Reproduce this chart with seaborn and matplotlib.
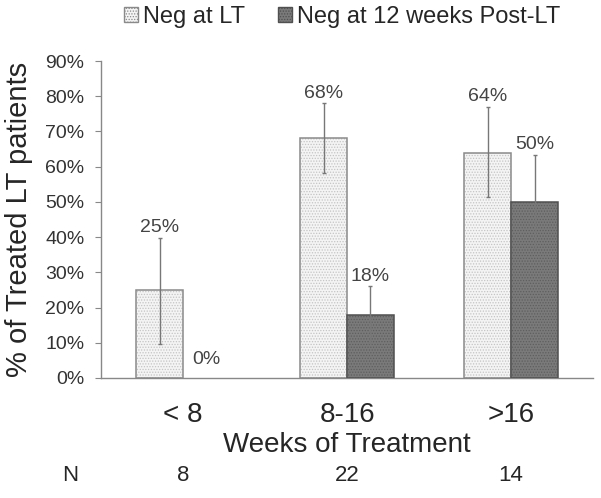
import numpy as np
import pandas as pd
import seaborn as sns
import matplotlib.pyplot as plt
from matplotlib.patches import Patch

# valeurs
weeks = ["< 8", "8-16", ">16"]
n_patients = [8, 22, 14]
series = ["Neg at LT", "Neg at 12 weeks Post-LT"]
neg_lt = [25, 68, 64]
neg_post = [0, 18, 50]
lt_low = [9.7, 58.2, 51.4]
lt_high = [39.8, 78.0, 77.0]
post_low = [0, 9.9, 36.9]
post_high = [0, 26.1, 63.4]

df = pd.DataFrame({
    "weeks": weeks * 2,
    "serie": [series[0]] * 3 + [series[1]] * 3,
    "pct": neg_lt + neg_post,
    "low": lt_low + post_low,
    "high": lt_high + post_high,
})

sns.set_style("white")
plt.rcParams["font.family"] = ["Liberation Sans", "DejaVu Sans"]
plt.rcParams["hatch.linewidth"] = 0.6

fig = plt.figure(figsize=(6.01, 4.98), dpi=100)
ax = fig.add_axes([0.168, 0.241, 0.819, 0.6365])

faces = {series[0]: "#f4f4f4", series[1]: "#7a7a7a"}
sns.barplot(data=df, x="weeks", y="pct", hue="serie", order=weeks, hue_order=series,
            palette=faces, width=0.57, errorbar=None, legend=False, ax=ax)

hatch_cols = {series[0]: "#c4c4c4", series[1]: "#5e5e5e"}
edge_cols = {series[0]: "#8a8a8a", series[1]: "#505050"}
bars = ax.patches[:6]
for i, bar in enumerate(bars):
    s = series[i // 3]
    bar.set_hatch("......")
    bar.set_edgecolor(hatch_cols[s])
    bar.set_linewidth(0)
    # contour du rectangle
    x, w, h = bar.get_x(), bar.get_width(), bar.get_height()
    if h > 0:
        ax.add_patch(plt.Rectangle((x, 0), w, h, fill=False, edgecolor=edge_cols[s], lw=1.1, zorder=3))

for i, bar in enumerate(bars):
    row = df.iloc[i]
    xc = bar.get_x() + bar.get_width() / 2
    if row.pct > 0:
        ax.errorbar(xc, row.pct, yerr=[[row.pct - row.low], [row.high - row.pct]],
                    fmt="none", ecolor="#777777", elinewidth=1, capsize=1.5, capthick=1, zorder=4)
        top, off = row.high, 1
    else:
        top, off = 0, 7
    ax.annotate(f"{row.pct:.0f}%", (xc, top), xytext=(0, off), textcoords="offset points",
                ha="center", va="bottom", fontsize=14, color="#444444")

ax.set_ylim(0, 90)
ax.set_xlim(-0.5, 2.5)
ax.set_yticks(np.arange(0, 91, 10))
ax.set_yticklabels([f"{v}%" for v in range(0, 91, 10)], fontsize=14, color="#333333")
ax.tick_params(axis="y", left=True, length=4, width=0.8, color="#888888", pad=8)
ax.tick_params(axis="x", bottom=False, labelsize=20, pad=14)
ax.set_xlabel("Weeks of Treatment", fontsize=20, labelpad=3)
ax.set_ylabel("% of Treated LT patients", fontsize=21)
ax.yaxis.set_label_coords(-0.138, 0.5)
sns.despine(ax=ax)
for side in ["left", "bottom"]:
    ax.spines[side].set_color("#888888")
    ax.spines[side].set_linewidth(1)

# ligne des effectifs
trans = ax.get_xaxis_transform()
ax.text(-0.69, -0.309, "N", transform=trans, ha="center", va="center", fontsize=16)
for i, n in enumerate(n_patients):
    ax.text(i, -0.309, str(n), transform=trans, ha="center", va="center", fontsize=16)

handles = [Patch(facecolor=faces[s], edgecolor=edge_cols[s], hatch="......", label=s) for s in series]
fig.legend(handles=handles, loc="center", bbox_to_anchor=(0.569, 0.966), ncol=2, frameon=False,
           fontsize=17, handlelength=0.6, handleheight=0.6, handletextpad=0.2, columnspacing=1.4)

fig.savefig("out.png", dpi=100)
